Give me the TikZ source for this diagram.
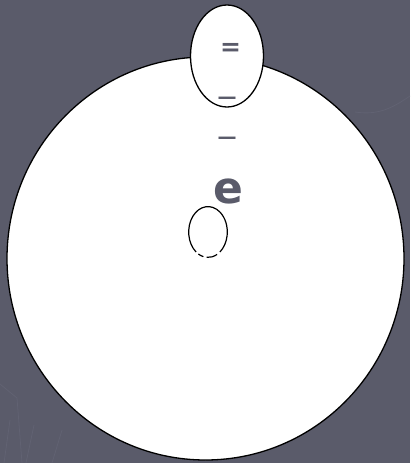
\documentclass[tikz,border=0pt]{standalone}
\usepackage{fontspec}
\newfontfamily\dejavu{DejaVu Sans}
\usetikzlibrary{positioning}
\definecolor{slate}{HTML}{5A5B6A}
\definecolor{faint}{HTML}{616272}
\tikzset{
  line cap=round,
  line join=round,
  blob/.style={draw=black, fill=white, line width=1.3pt},
  sign/.style={text=slate, font=\dejavu, inner sep=0pt},
  streak/.style={draw=faint, line width=0.8pt},
  loop/.style={line width=1.2pt, x radius=19.3, y radius=25.4}
}
\begin{document}
\begin{tikzpicture}[x=1pt, y=-1pt]
% 背景
\fill[slate] (0,0) rectangle (410,463);
\useasboundingbox (0,0) rectangle (410,463);
\draw[streak] (0,384) -- (17,398) -- (22,463);
\draw[streak] (10,420) -- (4,463);
\draw[streak] (34,425) -- (26,463);
\draw[streak] (62,430) -- (52,463);
\draw[streak] (355,112) .. controls (380,116) and (395,106) .. (410,96);

% 큰 원과 작은 타원
\draw[blob] (205.5,258.5) ellipse [x radius=198.5, y radius=201.5];
\draw[blob] (227,56) ellipse [x radius=36.5, y radius=51];
\coordinate (ring) at (208,232);
\draw[loop] ([shift={(128:19.3 and 25.4)}]ring) arc[start angle=128, end angle=412];
\draw[loop] ([shift={(120:19.3 and 25.4)}]ring) arc[start angle=120, end angle=104];
\draw[loop] ([shift={(94:19.3 and 25.4)}]ring) arc[start angle=94, end angle=62];

% 기호
\node[sign, font=\dejavu\bfseries\fontsize{25}{25}\selectfont] (eq) at (230.5,49.5) {=};
\node[sign, font=\dejavu\bfseries\fontsize{19}{19}\selectfont] (dashA) at (227,100) {—};
\node[sign, font=\dejavu\bfseries\fontsize{19}{19}\selectfont] (dashB) at (227,140) {—};
\node[sign, font=\dejavu\bfseries\fontsize{44}{44}\selectfont] (lett) at (228,191) {e};
\end{tikzpicture}
\end{document}
